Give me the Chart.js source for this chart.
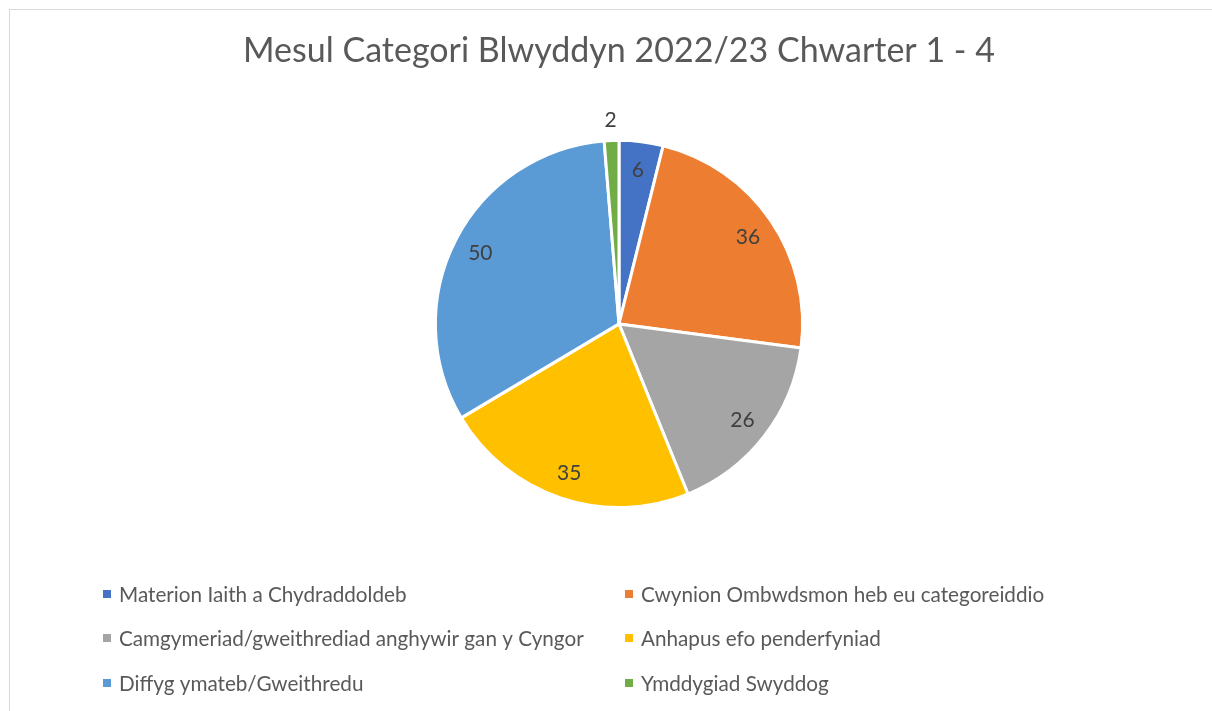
<!DOCTYPE html>
<html>
<head>
<meta charset="utf-8">
<title>Mesul Categori Blwyddyn 2022/23</title>
<script src="https://cdn.jsdelivr.net/npm/chart.js@4"></script>
<style>
    html, body { margin: 0; padding: 0; background: #fff; overflow: hidden; }
    #wrap { position: relative; width: 1212px; height: 711px; }
    #frame {
        position: absolute; left: 9px; top: 9px; width: 1300px; height: 800px;
        border: 1px solid #d9d9d9; box-sizing: border-box; pointer-events: none;
    }
    canvas { position: absolute; left: 0; top: 0; }
</style>
</head>
<body>
<div id="wrap">
    <div id="frame"></div>
    <canvas id="pie" width="1212" height="711"></canvas>
</div>
<script>
// Data
const categories = [
    'Materion Iaith a Chydraddoldeb',
    'Cwynion Ombwdsmon heb eu categoreiddio',
    'Camgymeriad/gweithrediad anghywir gan y Cyngor',
    'Anhapus efo penderfyniad',
    'Diffyg ymateb/Gweithredu',
    'Ymddygiad Swyddog'
];
const counts = [6, 36, 26, 35, 50, 2];
const colours = ['#4472C4', '#ED7D31', '#A5A5A5', '#FFC000', '#5B9BD5', '#70AD47'];
const chartTitle = 'Mesul Categori Blwyddyn 2022/23 Chwarter 1 - 4';

const FONT = 'Lato, "Open Sans", sans-serif';

// Labels on the slices, Excel style: inside near the rim, small ones outside
const sliceLabels = {
    id: 'sliceLabels',
    afterDatasetsDraw(chart) {
        const ctx = chart.ctx;
        const meta = chart.getDatasetMeta(0);
        const total = counts.reduce((a, b) => a + b, 0);
        ctx.save();
        ctx.font = '21px ' + FONT;
        ctx.fillStyle = '#404040';
        ctx.textAlign = 'center';
        ctx.textBaseline = 'middle';
        meta.data.forEach((arc, i) => {
            const p = arc.getProps(['x', 'y', 'startAngle', 'endAngle', 'outerRadius'], true);
            const mid = (p.startAngle + p.endAngle) / 2;
            const r = counts[i] / total < 0.03 ? p.outerRadius + 21 : p.outerRadius * 0.85;
            ctx.fillText(String(counts[i]), p.x + Math.cos(mid) * r, p.y + Math.sin(mid) * r + 1);
        });
        ctx.restore();
    }
};

// Two-column legend under the pie
const gridLegend = {
    id: 'gridLegend',
    afterDraw(chart) {
        const ctx = chart.ctx;
        const cols = [103, 625];
        const rows = [594, 638, 683];
        ctx.save();
        ctx.font = '20.7px ' + FONT;
        ctx.textBaseline = 'middle';
        chart.data.labels.forEach((label, i) => {
            const x = cols[i % 2];
            const y = rows[Math.floor(i / 2)];
            ctx.fillStyle = chart.data.datasets[0].backgroundColor[i];
            ctx.fillRect(x, y - 4, 8, 8);
            ctx.fillStyle = '#595959';
            ctx.fillText(label, x + 16, y + 1);
        });
        ctx.restore();
    }
};

new Chart(document.getElementById('pie'), {
    type: 'pie',
    data: {
        labels: categories,
        datasets: [{
            data: counts,
            backgroundColor: colours,
            borderColor: '#ffffff',
            borderWidth: 3
        }]
    },
    options: {
        responsive: false,
        animation: false,
        layout: {
            padding: { top: 0, bottom: 202, left: 26, right: 0 }
        },
        plugins: {
            legend: { display: false },
            tooltip: { enabled: false },
            title: {
                display: true,
                text: chartTitle,
                color: '#595959',
                font: { family: FONT, size: 34, weight: 'normal', lineHeight: 1.2 },
                padding: { top: 31, bottom: 67 }
            }
        }
    },
    plugins: [sliceLabels, gridLegend]
});
</script>
</body>
</html>
